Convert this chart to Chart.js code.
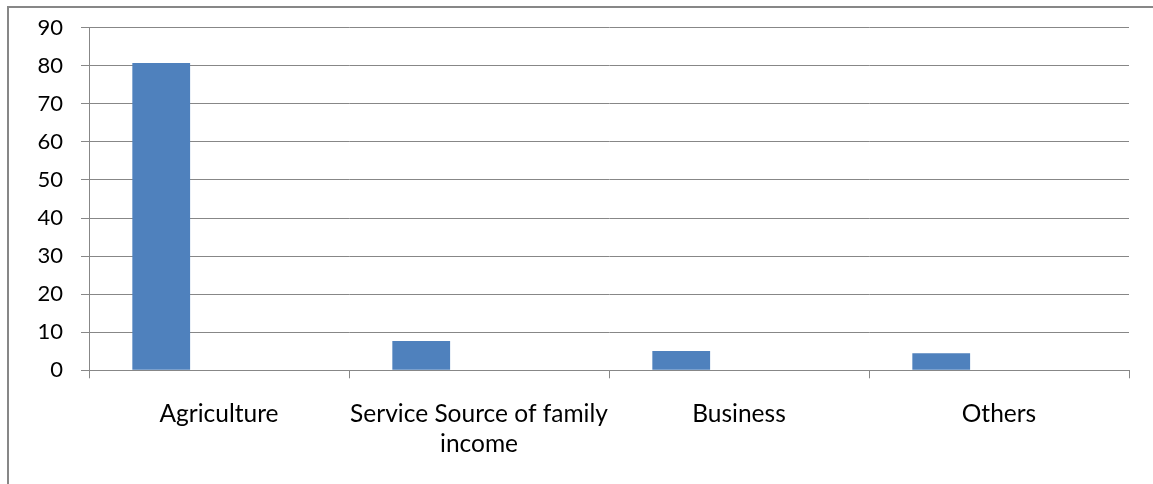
<!DOCTYPE html>
<html>
<head>
<meta charset="utf-8">
<script src="https://cdn.jsdelivr.net/npm/chart.js@4.4.1/dist/chart.umd.min.js"></script>
<style>
  html, body { margin: 0; padding: 0; background: #ffffff; overflow: hidden; }
  #wrap { position: relative; width: 1153px; height: 484px; }
  #frame {
    position: absolute; left: 7px; top: 6px; width: 1300px; height: 700px;
    border-left: 2px solid #878787; border-top: 2px solid #878787;
    box-sizing: border-box;
  }
  canvas { position: absolute; left: 0; top: 0; }
</style>
</head>
<body>
<div id="wrap">
  <div id="frame"></div>
  <canvas id="chart" width="1153" height="484"></canvas>
</div>
<script>
// Main source of family income (per cent of households)
const categories = [
  'Agriculture',
  ['Service Source of family', 'income'],
  'Business',
  'Others'
];
const shares = [80.7, 7.7, 5.1, 4.5];
// The workbook chart carries two further series that hold no values
const series2 = [null, null, null, null];
const series3 = [null, null, null, null];
const yTicks = [0, 10, 20, 30, 40, 50, 60, 70, 80, 90];

const GRID = '#878787';

new Chart(document.getElementById('chart'), {
  type: 'bar',
  data: {
    labels: categories,
    datasets: [
      { label: 'Series1', data: shares, backgroundColor: '#4f81bd', borderWidth: 0 },
      { label: 'Series2', data: series2, backgroundColor: '#c0504d', borderWidth: 0 },
      { label: 'Series3', data: series3, backgroundColor: '#9bbb59', borderWidth: 0 }
    ]
  },
  options: {
    responsive: false,
    animation: false,
    events: [],
    layout: { padding: { left: 0, right: 24, top: 27.7, bottom: 0 } },
    plugins: { legend: { display: false }, tooltip: { enabled: false } },
    datasets: { bar: { categoryPercentage: 2 / 3, barPercentage: 1 } },
    scales: {
      x: {
        grid: { drawOnChartArea: false, drawTicks: true, tickLength: 8, offset: true, color: GRID, lineWidth: 1 },
        border: { display: true, color: GRID, width: 1 },
        ticks: {
          color: '#000000',
          font: { family: 'Lato', size: 24.5, lineHeight: 1.23 },
          padding: 20.5, maxRotation: 0, autoSkip: false
        },
        afterFit: (s) => { s.height = 484 - 370.3; s.paddingLeft = 0; s.paddingRight = 0; }
      },
      y: {
        min: 0, max: 90,
        afterBuildTicks: (s) => { s.ticks = yTicks.map(v => ({ value: v })); },
        grid: { color: GRID, lineWidth: 1, tickLength: 8 },
        border: { display: true, color: GRID, width: 1 },
        ticks: { color: '#000000', font: { family: 'Lato', size: 22 }, padding: 18 },
        afterFit: (s) => { s.width = 89; s.paddingTop = 0; s.paddingBottom = 0; }
      }
    }
  }
});
</script>
</body>
</html>
